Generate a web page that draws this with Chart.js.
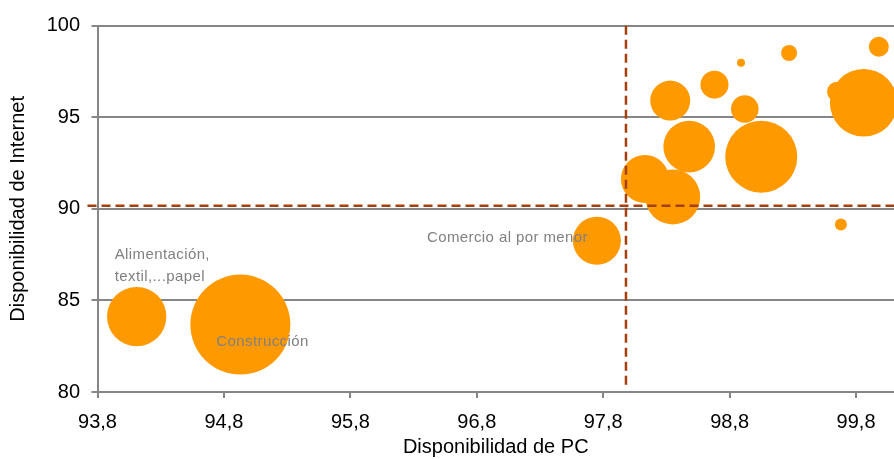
<!DOCTYPE html>
<html>
<head>
<meta charset="utf-8">
<script src="https://cdn.jsdelivr.net/npm/chart.js@4.4.1/dist/chart.umd.min.js"></script>
<style>
html, body { margin: 0; background: #fff; }
#wrap { width: 894px; height: 459px; }
</style>
</head>
<body>
<div id="wrap"><canvas id="grafico"></canvas></div>
<script>
// disponibilidad de PC (eje x) y de Internet (eje y) por sector, % de empresas
const etiquetas = ['Alimentación,\ntextil,...papel', 'Construcción', 'Comercio al por menor',
    '', '', '', '', '', '', '', '', '', '', '', '', ''];
const dispPC = [94.11, 94.93, 97.75, 99.68, 98.13, 98.35, 98.48, 98.33, 98.68, 98.92, 98.89, 99.27, 99.05, 99.98, 99.65, 99.86];
const dispInternet = [84.12, 83.68, 88.26, 89.14, 91.63, 90.65, 93.40, 95.91, 96.78, 95.45, 97.98, 98.51, 92.85, 98.85, 96.40, 95.79];
const peso = [8.8, 25, 5.76, 0.36, 5.76, 7.56, 6.66, 4, 1.96, 1.9, 0.16, 0.64, 12.96, 1, 1, 11.4];
const mediaPC = 97.98;
const mediaInternet = 90.17;
const ticksX = [93.8, 94.8, 95.8, 96.8, 97.8, 98.8, 99.8];

Chart.defaults.font.family = '"Liberation Sans", Arial, sans-serif';

const gris = '#868686';

// etiquetas de texto y lineas de media discontinuas
const extras = {
    id: 'extras',
    afterDatasetsDraw(chart) {
        const {ctx, chartArea: a, scales: {x, y}} = chart;
        const pos = {
            0: {dx: -22, dy: -62, align: 'left'},
            1: {dx: -24, dy: 17, align: 'left'},
            2: {dx: -9, dy: -3, align: 'right'}
        };
        ctx.save();
        ctx.font = '15px "Liberation Sans", Arial, sans-serif';
        ctx.fillStyle = '#808080';
        ctx.textBaseline = 'middle';
        ctx.letterSpacing = '0.4px';
        etiquetas.forEach((t, i) => {
            if (!t) return;
            const p = pos[i];
            const cx = x.getPixelForValue(dispPC[i]);
            const cy = y.getPixelForValue(dispInternet[i]);
            ctx.textAlign = p.align;
            t.split('\n').forEach((linea, k) => {
                ctx.fillText(linea, cx + p.dx, cy + p.dy + k * 22);
            });
        });

        const px = x.getPixelForValue(mediaPC);
        const py = y.getPixelForValue(mediaInternet);
        ctx.strokeStyle = '#A5400F';
        ctx.lineWidth = 2.5;
        ctx.setLineDash([9, 5]);
        ctx.beginPath();
        ctx.moveTo(px, a.top);
        ctx.lineTo(px, a.bottom - 3);
        ctx.stroke();
        ctx.beginPath();
        ctx.moveTo(a.left - 10, py);
        ctx.lineTo(a.right, py);
        ctx.stroke();
        ctx.restore();
    }
};

const puntos = dispPC.map((v, i) => ({x: v, y: dispInternet[i], r: Math.sqrt(peso[i]) * 10}));

new Chart(document.getElementById('grafico'), {
    type: 'bubble',
    data: {
        datasets: [{
            data: puntos,
            backgroundColor: '#FF9900',
            borderWidth: 0,
            hoverBorderWidth: 0
        }]
    },
    options: {
        responsive: true,
        maintainAspectRatio: false,
        animation: false,
        layout: { autoPadding: false, padding: { top: 25.7, right: 0, left: 0, bottom: 0 } },
        plugins: {
            legend: { display: false },
            tooltip: { enabled: false }
        },
        scales: {
            x: {
                type: 'linear',
                min: 93.8,
                max: 100.1,
                afterBuildTicks: s => { s.ticks = ticksX.map(v => ({value: v})); },
                afterFit: s => { s.height = 67; },
                ticks: {
                    callback: v => v.toFixed(1).replace('.', ','),
                    color: '#000',
                    font: { size: 20 },
                    padding: 12,
                    autoSkip: false,
                    maxRotation: 0
                },
                grid: { drawOnChartArea: false, drawTicks: true, tickLength: 6, color: gris, lineWidth: 2 },
                border: { color: gris, width: 2 },
                title: {
                    display: true,
                    text: 'Disponibilidad de PC',
                    color: '#000',
                    font: { size: 20 },
                    padding: { top: 0, bottom: 0 }
                }
            },
            y: {
                type: 'linear',
                min: 80,
                max: 100,
                afterFit: s => { s.width = 97.5; },
                ticks: {
                    stepSize: 5,
                    color: '#000',
                    font: { size: 20 },
                    padding: 11.5
                },
                grid: { color: gris, lineWidth: 2, tickLength: 6 },
                border: { color: gris, width: 2 },
                title: {
                    display: true,
                    text: 'Disponibilidad de Internet',
                    color: '#000',
                    font: { size: 20 },
                    padding: { top: 6, bottom: 0 }
                }
            }
        }
    },
    plugins: [extras]
});
</script>
</body>
</html>
